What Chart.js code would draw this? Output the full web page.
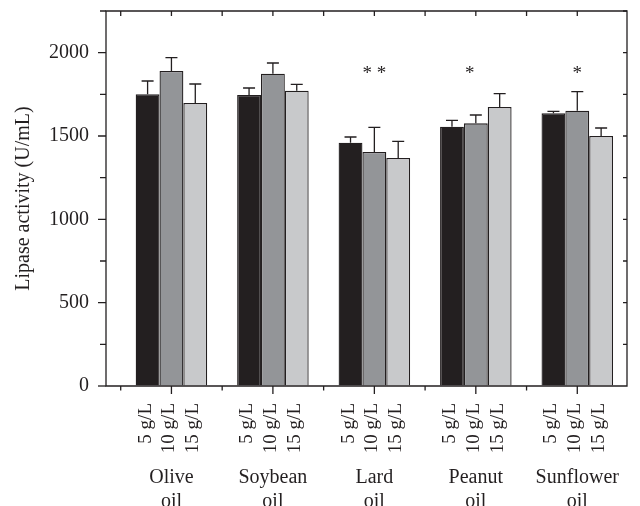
<!DOCTYPE html>
<html>
<head>
<meta charset="utf-8">
<script src="https://cdn.jsdelivr.net/npm/chart.js@4.4.0/dist/chart.umd.min.js"></script>
<style>
  html, body { margin: 0; padding: 0; background: #ffffff; }
  #wrap { width: 640px; height: 506px; }
</style>
</head>
<body>
<div id="wrap"><canvas id="c" width="640" height="506"></canvas></div>
<script>
// ---- data ----
const groups = [['Olive', 'oil'], ['Soybean', 'oil'], ['Lard', 'oil'], ['Peanut', 'oil'], ['Sunflower', 'oil']];
const groupPos = [1, 2, 3, 4, 5];
const seriesNames = ['5 g/L', '10 g/L', '15 g/L'];
const s5  = [1750, 1746, 1460, 1556, 1636];
const s10 = [1890, 1874, 1404, 1576, 1652];
const s15 = [1698, 1772, 1368, 1674, 1500];
const e5  = [80, 42, 34, 38, 12];
const e10 = [80, 64, 148, 50, 114];
const e15 = [114, 38, 100, 80, 48];
const sigMarks = ['', '', '* *', '*', '*'];
const sigPos = [1, 2, 3, 3.94, 5];
const sigLevel = 1842;
const yTicks = [0, 500, 1000, 1500, 2000];
const yTitle = 'Lipase activity (U/mL)';

// ---- styles ----
const INK = '#231f20';
const SERIF = "'Liberation Serif', 'DejaVu Serif', serif";
const fills = ['#231f20', '#939598', '#c8c9cb'];

const toPts = arr => arr.map((v, i) => ({ x: groupPos[i], y: v }));
const values = [s5, s10, s15];
const errs = [e5, e10, e15];

const datasets = values.map((arr, k) => ({
  label: seriesNames[k],
  data: toPts(arr),
  err: errs[k],
  backgroundColor: fills[k],
  borderColor: INK,
  borderWidth: 1.3,
  borderSkipped: 'start',
  categoryPercentage: 0.705,
  barPercentage: 1.0
}));

const decor = {
  id: 'decor',
  afterDatasetsDraw(chart) {
    const { ctx, chartArea: a, scales: { x, y } } = chart;
    ctx.save();
    ctx.strokeStyle = INK;
    ctx.fillStyle = INK;
    ctx.lineWidth = 1.3;
    ctx.lineCap = 'butt';

    // error bars (upper only)
    chart.data.datasets.forEach((ds, di) => {
      const meta = chart.getDatasetMeta(di);
      meta.data.forEach((bar, i) => {
        const top = y.getPixelForValue(ds.data[i].y + ds.err[i]);
        ctx.beginPath();
        ctx.moveTo(bar.x, bar.y);
        ctx.lineTo(bar.x, top);
        ctx.moveTo(bar.x - 6, top);
        ctx.lineTo(bar.x + 6, top);
        ctx.stroke();
      });
    });

    // frame
    ctx.beginPath();
    ctx.rect(a.left, a.top, a.right - a.left, a.bottom - a.top);
    ctx.stroke();

    // y ticks every 250
    for (let v = 0; v <= y.max; v += 250) {
      const py = y.getPixelForValue(v);
      const len = (v % 500 === 0) ? 8 : 6;
      ctx.beginPath();
      ctx.moveTo(a.left - len, py); ctx.lineTo(a.left, py);
      if (v > 0) { ctx.moveTo(a.right, py); ctx.lineTo(a.right - 4, py); }
      ctx.stroke();
    }
    // x ticks every 0.5
    for (let v = 0.5; v <= x.max; v += 0.5) {
      const px = x.getPixelForValue(v);
      const major = Number.isInteger(v);
      ctx.beginPath();
      ctx.moveTo(px, a.bottom); ctx.lineTo(px, a.bottom + (major ? 8 : 4.5));
      ctx.moveTo(px, a.top); ctx.lineTo(px, a.top + 5);
      ctx.stroke();
    }

    // rotated concentration labels under each bar
    ctx.font = '19px ' + SERIF;
    chart.data.datasets.forEach((ds, di) => {
      const meta = chart.getDatasetMeta(di);
      meta.data.forEach((bar) => {
        ctx.save();
        ctx.translate(bar.x - 2, a.bottom + 17);
        ctx.rotate(-Math.PI / 2);
        ctx.textAlign = 'right';
        ctx.textBaseline = 'middle';
        ctx.fillText(ds.label, 0, 0);
        ctx.restore();
      });
    });

    // group names
    ctx.font = '20px ' + SERIF;
    ctx.textAlign = 'center';
    ctx.textBaseline = 'alphabetic';
    groups.forEach((lines, i) => {
      const px = x.getPixelForValue(groupPos[i]);
      lines.forEach((t, j) => ctx.fillText(t, px, a.bottom + 97 + j * 24));
    });

    // significance marks
    ctx.font = '19px ' + SERIF;
    sigMarks.forEach((m, i) => {
      if (!m) return;
      ctx.fillText(m, x.getPixelForValue(sigPos[i]), y.getPixelForValue(sigLevel));
    });
    ctx.restore();
  }
};

new Chart(document.getElementById('c'), {
  type: 'bar',
  data: { datasets },
  options: {
    responsive: false,
    animation: false,
    devicePixelRatio: 1,
    layout: { padding: { left: 0, right: 13, top: 11, bottom: 120 } },
    plugins: { legend: { display: false }, tooltip: { enabled: false } },
    scales: {
      x: {
        type: 'linear',
        min: 0.355,
        max: 5.49,
        offset: false,
        display: false,
        afterBuildTicks: s => { s.ticks = groupPos.map(v => ({ value: v })); },
        grid: { display: false }
      },
      y: {
        min: 0,
        max: 2250,
        afterBuildTicks: s => { s.ticks = yTicks.map(v => ({ value: v })); },
        afterFit: s => { s.width = 106; },
        grid: { display: true, drawOnChartArea: false, drawTicks: true, tickLength: 17, color: 'rgba(0,0,0,0)' },
        border: { display: false },
        ticks: {
          font: { family: SERIF, size: 20, lineHeight: 1 },
          color: INK,
          padding: 0,
          callback: v => String(v)
        },
        title: {
          display: true,
          text: yTitle,
          font: { family: SERIF, size: 20 },
          color: INK,
          padding: { top: 12, bottom: 0 }
        }
      }
    }
  },
  plugins: [decor]
});
</script>
</body>
</html>
